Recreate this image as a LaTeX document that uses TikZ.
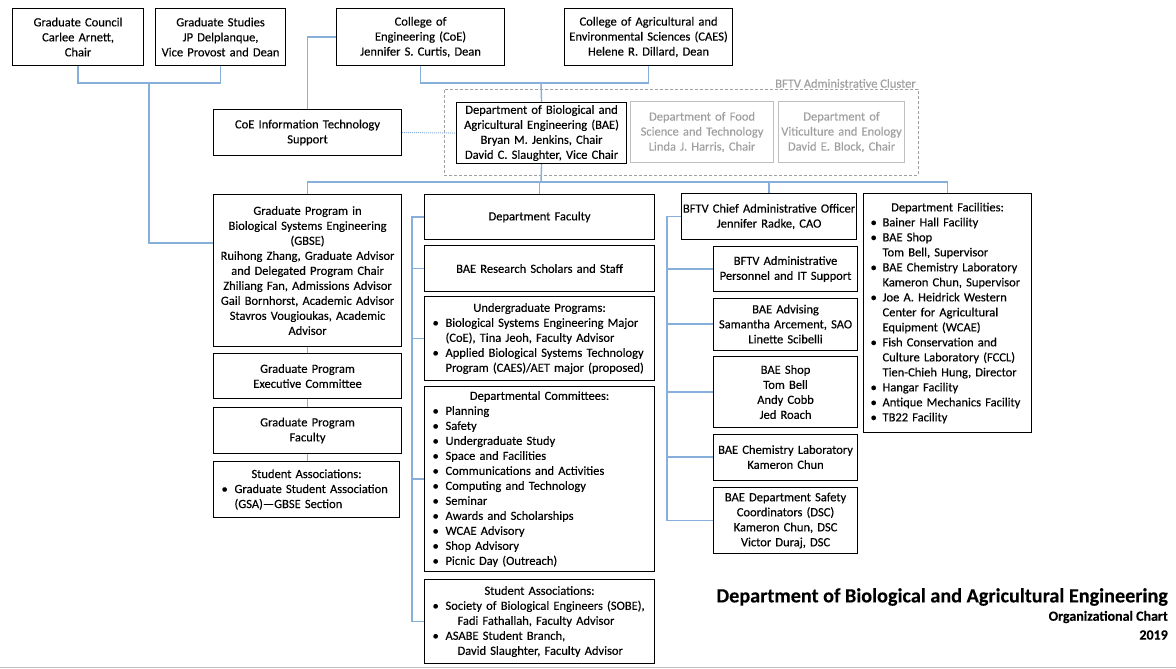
\documentclass[tikz,border=0pt]{standalone}
\usepackage{fontspec}
\setmainfont{Carlito}[RawFeature={embolden=0.2}]
\usetikzlibrary{calc}
\definecolor{linkblue}{RGB}{135,175,220}
\definecolor{grayt}{RGB}{160,160,160}
\definecolor{grayb}{RGB}{191,191,191}
\newcommand\fs{\fontsize{12.5}{15}\selectfont}
\newcommand\bi[1]{\makebox[21pt][l]{\hspace*{8pt}•}#1}
\newcommand\ci[1]{\hspace*{21pt}#1}
\newcommand\cii[1]{\hspace*{33pt}#1}
\newcommand\bj[1]{\makebox[19pt][l]{\hspace*{7pt}•}#1}
\newcommand\cj[1]{\hspace*{19pt}#1}
\newcommand\hd[1]{\makebox[\linewidth]{#1}}
\begin{document}
\begin{tikzpicture}[x=1pt,y=-1pt,
  box/.style={draw=black, line width=1.1pt, inner xsep=0pt, inner ysep=0pt, align=center, anchor=north west, font=\fs},
  lbox/.style={box, align=left},
  gbox/.style={box, draw=grayb, text=grayt},
  link/.style={draw=linkblue, line width=1.4pt}]
\path[use as bounding box, fill=white] (0,0) rectangle (1176,669);

% top row
\node[box, text width=131pt, minimum height=57pt] (gc) at (12,8) {Graduate Council\\Carlee Arnett,\\Chair};
\node[box, text width=130pt, minimum height=57pt] (gs) at (155,8) {Graduate Studies\\JP Delplanque,\\Vice Provost and Dean};
\node[box, text width=168pt, minimum height=57pt] (coe) at (336,8) {College of\\Engineering (CoE)\\Jennifer S. Curtis, Dean};
\node[box, text width=168pt, minimum height=57pt] (caes) at (564,8) {College of Agricultural and\\Environmental Sciences (CAES)\\Helene R. Dillard, Dean};

% cluster
\node[draw=grayt, line width=0.8pt, dash pattern=on 3pt off 2pt, minimum width=474pt, minimum height=86pt, anchor=north west, inner sep=0pt] (cluster) at (444,89) {};
\node[anchor=south east, text=grayt, font=\fs, inner sep=0pt] (clabel) at (916,88) {BFTV Administrative Cluster};

\node[box, text width=188pt, minimum height=46pt] (coeit) at (213,109) {CoE Information Technology\\Support};
\node[box, text width=170pt, minimum height=61pt] (bae) at (456,102) {Department of Biological and\\Agricultural Engineering (BAE)\\Bryan M. Jenkins, Chair\\David C. Slaughter, Vice Chair};
\node[gbox, text width=143pt, minimum height=61pt] (food) at (630,101) {Department of Food\\Science and Technology\\Linda J. Harris, Chair};
\node[gbox, text width=126pt, minimum height=61pt] (viti) at (778,101) {Department of\\Viticulture and Enology\\David E. Block, Chair};

% left column
\node[box, text width=188pt, minimum height=152pt] (gbse) at (213,194) {Graduate Program in\\Biological Systems Engineering\\(GBSE)\\Ruihong Zhang, Graduate Advisor\\and Delegated Program Chair\\Zhiliang Fan, Admissions Advisor\\Gail Bornhorst, Academic Advisor\\Stavros Vougioukas, Academic\\Advisor};
\node[box, text width=188pt, minimum height=45pt] (gpec) at (213,353) {Graduate Program\\Executive Committee};
\node[box, text width=188pt, minimum height=46pt] (gpf) at (213,407) {Graduate Program\\Faculty};
\node[lbox, text width=186pt, minimum height=56pt] (gsa) at (213,461) {\hd{Student Associations:}\\\bi{Graduate Student Association}\\\ci{(GSA)---GBSE Section}};

% middle column
\node[box, text width=230pt, minimum height=45pt] (df) at (424,194) {Department Faculty};
\node[box, text width=230pt, minimum height=46pt] (brs) at (424,245) {BAE Research Scholars and Staff};
\node[lbox, text width=230pt, minimum height=84pt] (ug) at (424,296) {\hd{Undergraduate Programs:}\\\bi{Biological Systems Engineering Major}\\\ci{(CoE), Tina Jeoh, Faculty Advisor}\\\bi{Applied Biological Systems Technology}\\\ci{Program (CAES)/AET major (proposed)}};
\node[lbox, text width=230pt, minimum height=185pt] (dc) at (424,386) {\hd{Departmental Committees:}\\\bi{Planning}\\\bi{Safety}\\\bi{Undergraduate Study}\\\bi{Space and Facilities}\\\bi{Communications and Activities}\\\bi{Computing and Technology}\\\bi{Seminar}\\\bi{Awards and Scholarships}\\\bi{WCAE Advisory}\\\bi{Shop Advisory}\\\bi{Picnic Day (Outreach)}};
\node[lbox, text width=230pt, minimum height=84pt] (sa) at (424,579) {\hd{Student Associations:}\\\bi{Society of Biological Engineers (SOBE),}\\\cii{Fadi Fathallah, Faculty Advisor}\\\bi{ASABE Student Branch,}\\\cii{David Slaughter, Faculty Advisor}};

% third column
\node[box, text width=175pt, minimum height=46pt] (cao) at (681,193) {BFTV Chief Administrative Officer\\Jennifer Radke, CAO};
\node[box, text width=144pt, minimum height=45pt] (adm) at (713,246) {BFTV Administrative\\Personnel and IT Support};
\node[box, text width=144pt, minimum height=52pt] (adv) at (713,297.5) {BAE Advising\\Samantha Arcement, SAO\\Linette Scibelli};
\node[box, text width=144pt, minimum height=71pt] (shop) at (713,356) {BAE Shop\\Tom Bell\\Andy Cobb\\Jed Roach};
\node[box, text width=144pt, minimum height=46pt] (chem) at (713,433.5) {BAE Chemistry Laboratory\\Kameron Chun};
\node[box, text width=144pt, minimum height=66pt] (safe) at (713,487) {BAE Department Safety\\Coordinators (DSC)\\Kameron Chun, DSC\\Victor Duraj, DSC};

% facilities
\node[lbox, text width=168pt, minimum height=239pt] (fac) at (863,193) {\hd{Department Facilities:}\\\bj{Bainer Hall Facility}\\\bj{BAE Shop}\\\cj{Tom Bell, Supervisor}\\\bj{BAE Chemistry Laboratory}\\\cj{Kameron Chun, Supervisor}\\\bj{Joe A. Heidrick Western}\\\cj{Center for Agricultural}\\\cj{Equipment (WCAE)}\\\bj{Fish Conservation and}\\\cj{Culture Laboratory (FCCL)}\\\cj{Tien-Chieh Hung, Director}\\\bj{Hangar Facility}\\\bj{Antique Mechanics Facility}\\\bj{TB22 Facility}};

% title
\node[anchor=east, inner sep=0pt, font=\bfseries\fontsize{20.2}{22}\selectfont] (title) at (1168,597) {Department of Biological and Agricultural Engineering};
\node[anchor=east, inner sep=0pt, font=\bfseries\fontsize{14}{16}\selectfont] (sub) at (1168,617) {Organizational Chart};
\node[anchor=east, inner sep=0pt, font=\bfseries\fontsize{14}{16}\selectfont] (yr) at (1168,635) {2019};

% connectors
\coordinate (gj) at (149,83);
\coordinate (gbin) at (213,243);
\draw[link] (gc.south) |- (gj) -| (gs.south);
\draw[link] (gj) |- (gbin);
\coordinate (cjn) at (541,83);
\draw[link] (coe.south) |- (cjn) -| (caes.south);
\draw[link] (cjn) -- (bae.north);
\draw[link] (coe.west) -| (coeit.north);
\draw[link, line width=1pt, dash pattern=on 1pt off 1pt] (coeit.east) -- (bae.west);
\coordinate (bjn) at (541,182);
\draw[link] (bae.south) -- (bjn);
\draw[link] (gbse.north) |- (bjn) -| (fac.north);
\draw[link] (df.north) -- (df.north |- bjn);
\draw[link] (cao.north) -- (cao.north |- bjn);
\draw[link] (gbse.south) -- (gpec.north);
\draw[link] (gpec.south) -- (gpf.north);
\draw[link] (gpf.south) -- (gpf.south |- gsa.north);
\draw[link] (df.west) -- ++(-12,0) |- (sa.west);
\foreach \n in {brs,ug,dc} \draw[link] (\n.west) -- ++(-12,0);
\draw[link] (cao.west) -- ++(-14,0) |- (safe.west);
\foreach \n in {adm,adv,shop,chem} \draw[link] (\n.west) -- ++(-46,0);

% bottom rule
\draw[grayb, line width=1.5pt] (0,667.5) -- (1176,667.5);
\end{tikzpicture}
\end{document}
